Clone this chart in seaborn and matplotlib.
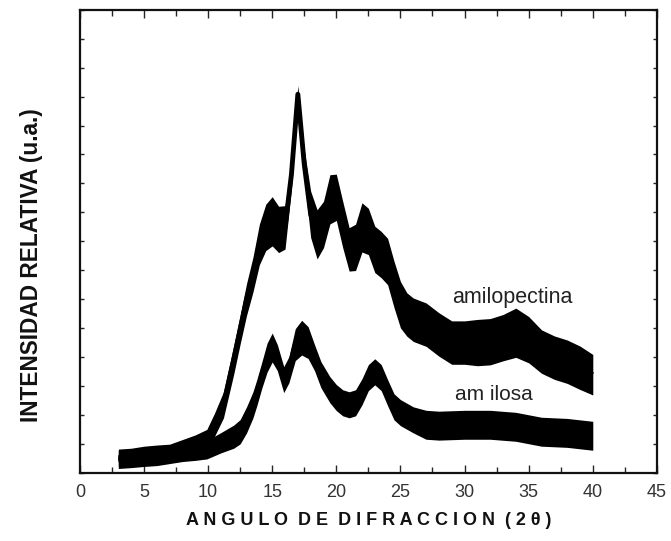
import numpy as np
import pandas as pd
import matplotlib
matplotlib.use("Agg")
import matplotlib.pyplot as plt
import seaborn as sns
from matplotlib.ticker import MultipleLocator

# --- DATA (intensity in arbitrary units) ---
amilopectina_2theta = [3, 4, 5, 6, 7, 8, 9, 9.9, 10.5, 11.2,
                       12, 12.5, 13, 13.5, 14, 14.5, 15, 15.5, 16, 16.5, 17, 17.5,
                       18, 18.5, 19, 19.5, 20, 20.5, 21, 21.5, 22, 22.5, 23, 23.5, 24, 24.5,
                       25, 25.5, 26, 27, 28, 29, 30, 31, 32, 33, 34, 35, 36, 37, 38, 39, 40]
amilopectina_int = [0.52, 0.55, 0.62, 0.66, 0.69, 0.83, 0.97, 1.14, 1.66, 2.35,
                    3.91, 4.95, 5.99, 6.85, 7.89, 8.48, 8.69, 8.41, 8.48, 10.31, 13.08, 10.66,
                    8.93, 8.24, 8.58, 9.45, 9.52, 8.58, 7.72, 7.79, 8.48, 8.34, 7.72, 7.54, 7.30, 6.51,
                    5.81, 5.47, 5.29, 5.12, 4.78, 4.50, 4.50, 4.50, 4.53, 4.67, 4.84, 4.60, 4.19, 3.98,
                    3.84, 3.63, 3.39]
# half height of the noise band
amilopectina_noise = [0.30, 0.30, 0.30, 0.30, 0.30, 0.32, 0.34, 0.36, 0.40, 0.45,
                      0.50, 0.50, 0.55, 0.60, 0.70, 0.80, 0.85, 0.80, 0.75, 0.50, 0.30, 0.50,
                      0.80, 0.85, 0.80, 0.85, 0.80, 0.80, 0.75, 0.80, 0.85, 0.80, 0.80, 0.80, 0.80, 0.80,
                      0.80, 0.75, 0.75, 0.75, 0.75, 0.75, 0.75, 0.80, 0.80, 0.80, 0.85, 0.80, 0.75, 0.75,
                      0.75, 0.75, 0.70]

amilosa_2theta = [3, 4, 5, 6, 7, 8, 9, 9.9, 11, 12, 12.5,
                  13, 13.5, 13.8, 14.2, 14.6, 15, 15.4, 15.9,
                  16.3, 16.8, 17.3, 17.8, 18.3, 18.8,
                  19.5, 20, 20.5, 21, 21.5, 22, 22.5, 23, 23.5, 24, 24.5, 25,
                  26, 27, 28, 30, 32, 34, 36, 38, 40]
amilosa_int = [0.45, 0.48, 0.52, 0.55, 0.62, 0.69, 0.73, 0.80, 1.04, 1.25, 1.42,
               1.83, 2.35, 2.77, 3.39, 3.98, 4.33, 3.98, 3.22,
               3.56, 4.43, 4.67, 4.50, 3.98, 3.39,
               2.87, 2.60, 2.42, 2.35, 2.42, 2.80, 3.29, 3.49, 3.29, 2.77, 2.28, 2.08,
               1.83, 1.66, 1.63, 1.66, 1.66, 1.59, 1.42, 1.38, 1.28]
amilosa_noise = [0.30, 0.30, 0.30, 0.30, 0.30, 0.30, 0.30, 0.32, 0.35, 0.40, 0.42,
                 0.45, 0.45, 0.45, 0.45, 0.50, 0.50, 0.45, 0.45,
                 0.45, 0.55, 0.60, 0.55, 0.45, 0.45,
                 0.45, 0.45, 0.45, 0.45, 0.45, 0.45, 0.45, 0.45, 0.45, 0.45, 0.45, 0.45,
                 0.45, 0.50, 0.50, 0.50, 0.50, 0.50, 0.50, 0.50, 0.50]

x_ticks = [0, 5, 10, 15, 20, 25, 30, 35, 40, 45]

sns.set_style("ticks")
plt.rcParams['font.family'] = ['Liberation Sans', 'DejaVu Sans']

fig = plt.figure(figsize=(6.71, 5.41), dpi=100)
ax = fig.add_axes([0.119, 0.126, 0.860, 0.856])

series = [
    ("amilopectina", amilopectina_2theta, amilopectina_int, amilopectina_noise),
    ("amilosa", amilosa_2theta, amilosa_int, amilosa_noise),
]
for name, tt, inten, noise in series:
    df = pd.DataFrame({"2theta": tt, "intensidad": inten, "ruido": noise})
    ax.fill_between(df["2theta"], df["intensidad"] - df["ruido"], df["intensidad"] + df["ruido"],
                    color="black", linewidth=0)
    sns.lineplot(data=df, x="2theta", y="intensidad", ax=ax, color="black",
                 linewidth=3.5, legend=False, solid_capstyle="butt")

ax.text(29.0, 6.05, "amilopectina", fontsize=15.5, color="#222222", va="center")
ax.text(29.25, 2.70, "am ilosa", fontsize=15, color="#222222", va="center")

ax.set_xlim(0, 45)
ax.set_ylim(0, 16)
ax.set_xticks(x_ticks)
ax.set_xticklabels([str(t) for t in x_ticks], fontsize=13, color="#333333")
ax.xaxis.set_minor_locator(MultipleLocator(2.5))
ax.yaxis.set_major_locator(MultipleLocator(1))
ax.set_yticklabels([])
ax.tick_params(axis="both", which="both", direction="in", top=True, right=True, width=1)
ax.tick_params(axis="x", which="major", length=6, pad=8)
ax.tick_params(axis="x", which="minor", length=4)
ax.tick_params(axis="y", which="major", length=3)
for sp in ax.spines.values():
    sp.set_linewidth(1.6)
    sp.set_color("#111111")

ax.set_xlabel("A N G U L O  D E  D I F R A C C I O N  ( 2 \u03b8 )", fontsize=13,
              fontweight="bold", color="#111111", labelpad=8)
ax.set_ylabel("INTENSIDAD RELATIVA (u.a.)", fontsize=16.3, fontweight="bold",
              color="#111111")
ax.yaxis.set_label_coords(-0.064, 0.449)

fig.savefig("out.png", dpi=100)
